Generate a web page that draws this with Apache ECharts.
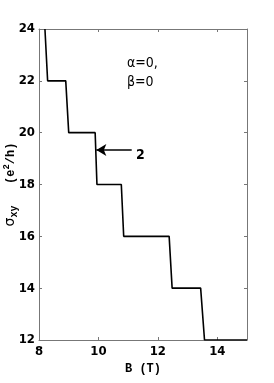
<!DOCTYPE html>
<html><head><meta charset="utf-8">
<script src="https://cdn.jsdelivr.net/npm/echarts@6/dist/echarts.min.js"></script>
<style>html,body{margin:0;padding:0;background:#fff}#c{width:274px;height:383px}</style>
</head><body><div id="c"></div>
<script>
// Hall conductivity staircase: B (T) vs sigma_xy (e^2/h)
const bValues     = [8.20, 8.29, 8.90, 9.00, 9.89, 9.95, 10.77, 10.85, 12.38, 12.48, 13.44, 13.57, 15.0];
const sigmaValues = [24,   22,   22,   20,   20,   18,   18,    16,    16,    14,    14,    12,    12];
const xTicks = [8, 10, 12, 14];
const yTicks = [12, 14, 16, 18, 20, 22, 24];
const arrowFrom = [11.12, 19.33];
const arrowTo = [9.93, 19.33];
const arrowLabel = '2';
const annot1 = 'α=0,';
const annot2 = 'β=0';

const chart = echarts.init(document.getElementById('c'));
const tickFont = {fontFamily: 'DejaVu Sans Condensed', fontWeight: 'bold', fontSize: 13, color: '#000'};
const axisLine = {lineStyle: {color: '#777', width: 1}};
const tick = {inside: true, length: 3, lineStyle: {color: '#777'}};
chart.setOption({
  animation: false,
  grid: {left: 39, right: 27, top: 29, bottom: 43, containLabel: false, outerBoundsMode: 'none'},
  xAxis: [{
    type: 'value', min: 8, max: 15, interval: 2, position: 'bottom',
    axisLine: axisLine, axisTick: tick, splitLine: {show: false},
    axisLabel: Object.assign({margin: 5, showMaxLabel: false, formatter: v => xTicks.includes(v) ? String(v) : ''}, tickFont),
    name: 'B (T)', nameLocation: 'middle', nameGap: 23, nameMoveOverlap: false,
    nameTextStyle: {fontFamily: 'Liberation Mono', fontWeight: 'bold', fontSize: 12, color: '#000'}
  }, {
    type: 'value', min: 8, max: 15, interval: 2, position: 'top',
    axisLine: axisLine, axisTick: tick, axisLabel: {show: false}, splitLine: {show: false}
  }],
  yAxis: [{
    type: 'value', min: 12, max: 24, interval: 2, position: 'left',
    axisLine: axisLine, axisTick: tick, splitLine: {show: false},
    axisLabel: Object.assign({margin: 4, formatter: v => yTicks.includes(v) ? String(v) : ''}, tickFont),
    name: '{s|σ}{sub|xy}{n|   (e}{sup|2}{n|/h)}', nameLocation: 'middle', nameGap: 20, nameRotate: 90,
    nameMoveOverlap: false,
    nameTextStyle: {
      rich: {
        s: {fontFamily: 'DejaVu Sans', fontSize: 14, color: '#000'},
        sub: {fontFamily: 'Liberation Mono', fontWeight: 'bold', fontSize: 10, color: '#000', padding: [7, 0, 0, 0]},
        n: {fontFamily: 'Liberation Mono', fontWeight: 'bold', fontSize: 12, color: '#000'},
        sup: {fontFamily: 'Liberation Mono', fontWeight: 'bold', fontSize: 9, color: '#000', padding: [0, 0, 8, 0]}
      }
    }
  }, {
    type: 'value', min: 12, max: 24, interval: 2, position: 'right',
    axisLine: axisLine, axisTick: tick, axisLabel: {show: false}, splitLine: {show: false}
  }],
  series: [{
    type: 'line', xAxisIndex: 0, yAxisIndex: 0,
    data: bValues.map((b, i) => [b, sigmaValues[i]]),
    showSymbol: false, lineStyle: {color: '#000', width: 1.6},
    markLine: {
      silent: true, symbol: ['none', 'arrow'], symbolSize: [9, 10],
      lineStyle: {color: '#000', width: 1.6, type: 'solid'},
      label: {show: false},
      data: [[{coord: arrowFrom}, {coord: arrowTo}]]
    }
  }],
  graphic: [
    {type: 'text', left: 127, top: 56, style: {text: annot1, font: '14px "DejaVu Sans Condensed"', fill: '#000'}},
    {type: 'text', left: 127, top: 75, style: {text: annot2, font: '14px "DejaVu Sans Condensed"', fill: '#000'}},
    {type: 'text', left: 136, top: 148, style: {text: arrowLabel, font: 'bold 14px "DejaVu Sans Condensed"', fill: '#000'}}
  ]
});
</script></body></html>
